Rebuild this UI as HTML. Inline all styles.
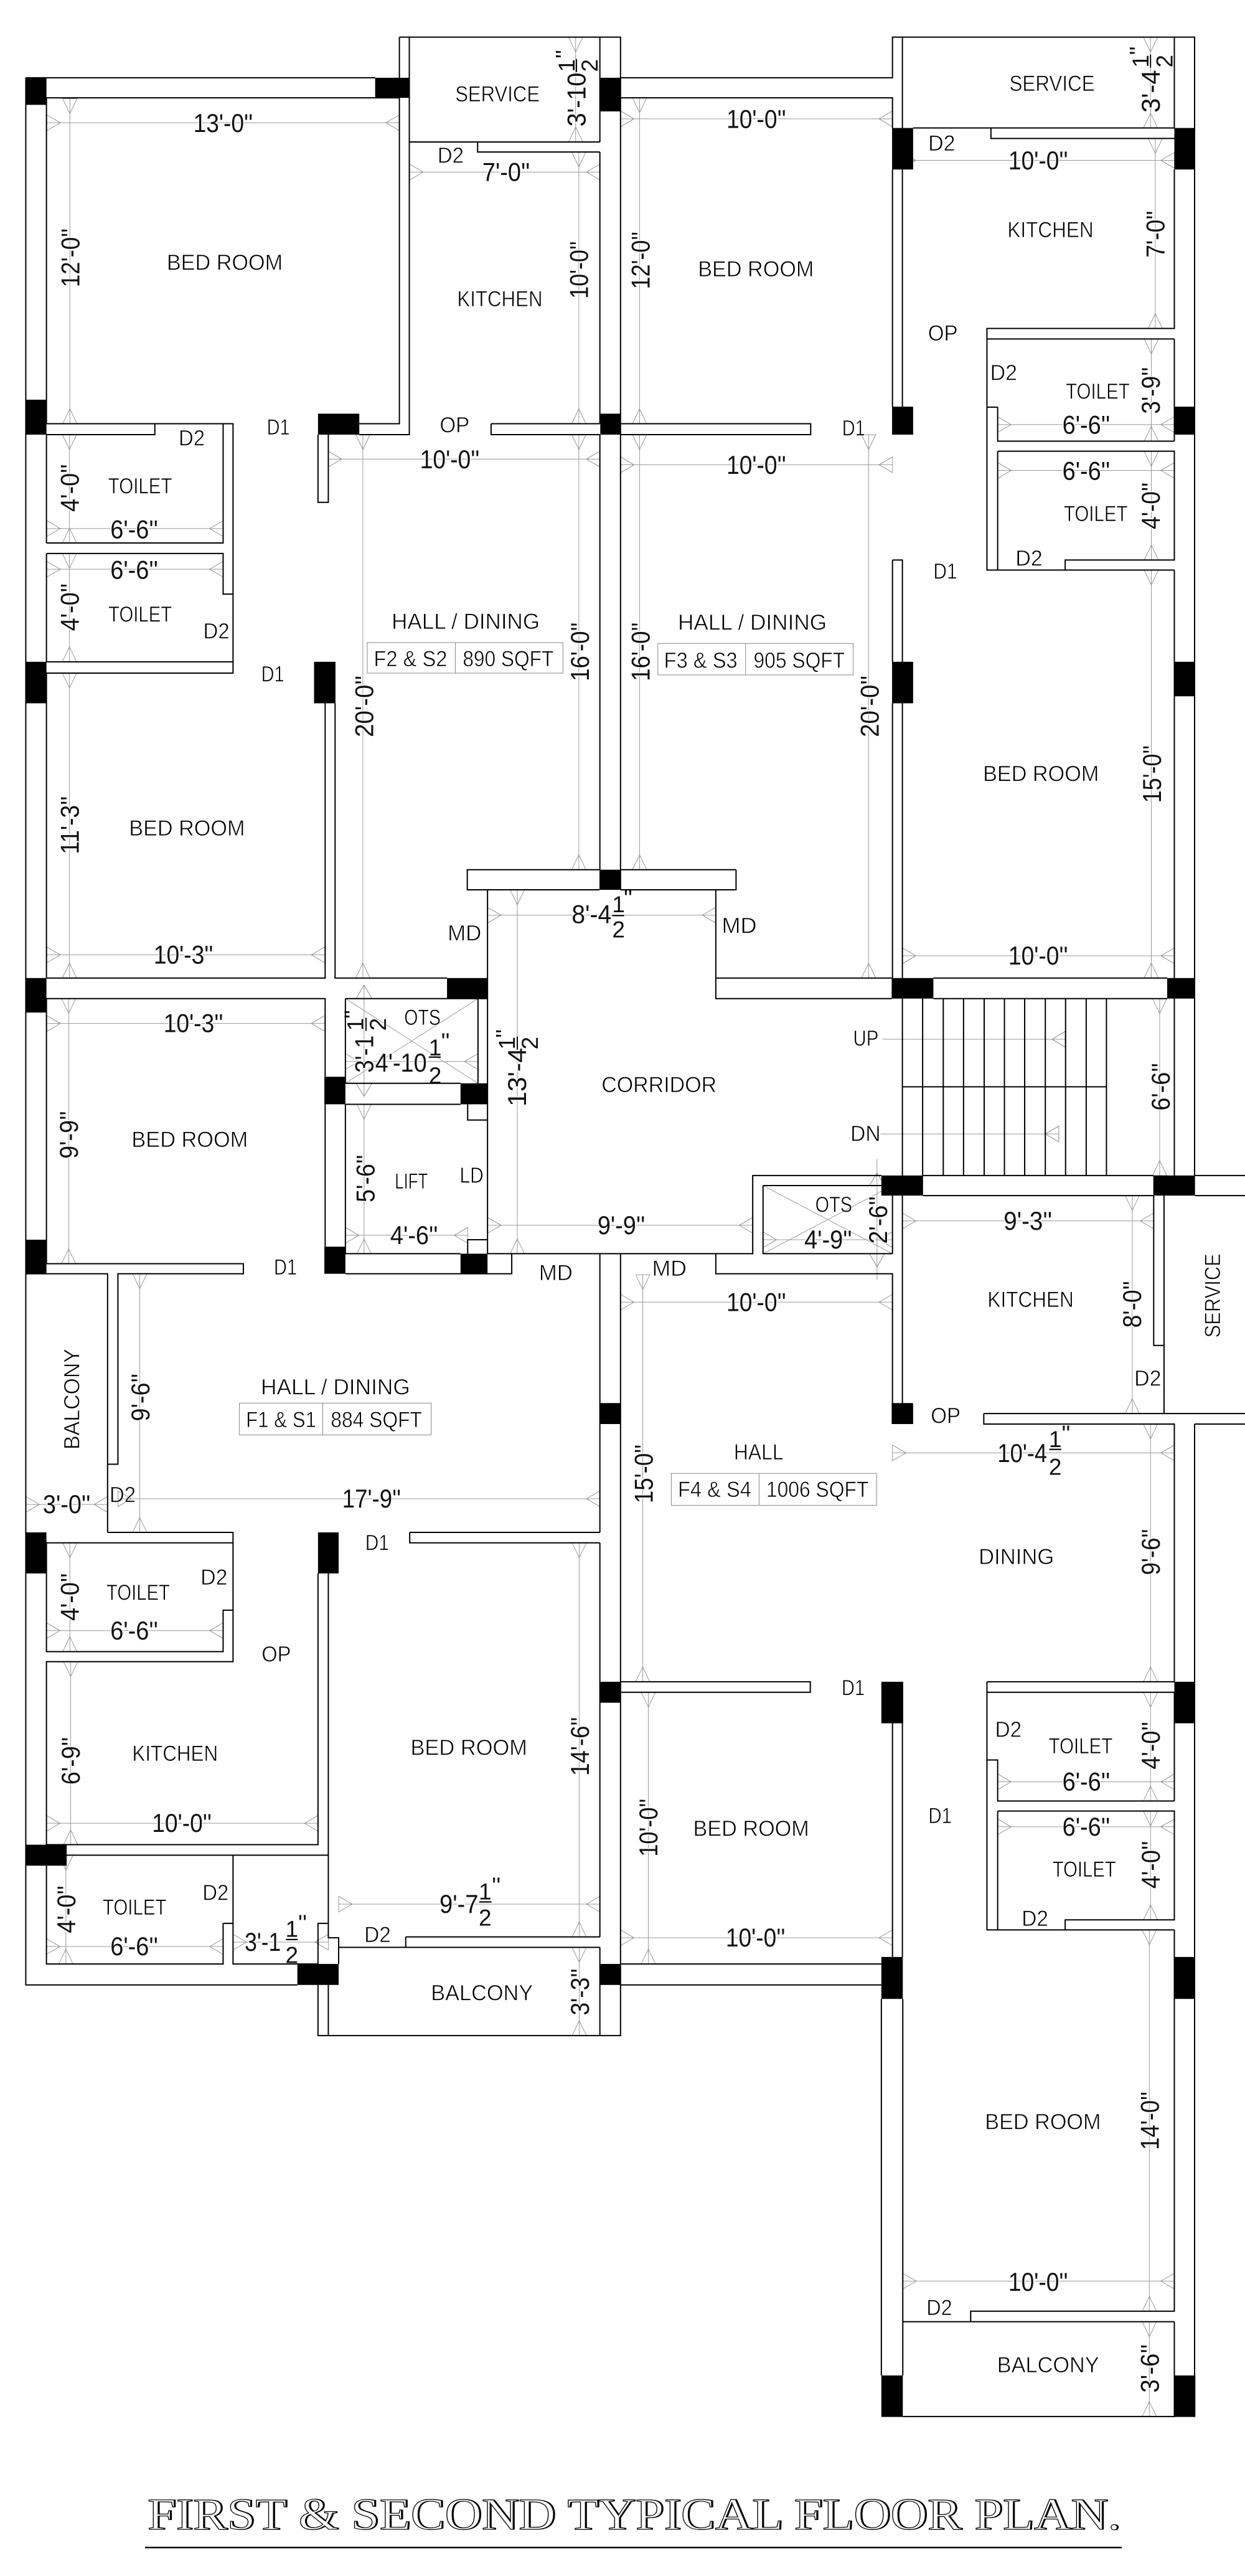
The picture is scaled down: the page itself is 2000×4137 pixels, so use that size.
<!DOCTYPE html>
<html><head><meta charset="utf-8"><style>
html,body{margin:0;padding:0;background:#fff}
svg{display:block}
text{font-family:"Liberation Sans",sans-serif;fill:#000;text-anchor:middle}
.l{font-size:55px;stroke:#fff;stroke-width:1.1px}
.d{font-size:66px;fill:#111;paint-order:stroke;stroke:#fff;stroke-width:5px}
.f{font-size:58px;fill:#111;paint-order:stroke;stroke:#fff;stroke-width:3px}
.w{fill:none;stroke:#000;stroke-width:2;vector-effect:non-scaling-stroke}
.t{fill:none;stroke:#888;stroke-width:1;vector-effect:non-scaling-stroke}
.g line{stroke:#999;stroke-width:1;vector-effect:non-scaling-stroke;marker-start:url(#s);marker-end:url(#e)}
.n line{stroke:#999;stroke-width:1;vector-effect:non-scaling-stroke}
.b rect{fill:#000}
.title{font-family:"Liberation Serif",serif;font-size:72px;text-anchor:start}
.t1{fill:#000;stroke:#000;stroke-width:1px}
.t2{fill:#fff;stroke:#000;stroke-width:1.2px}
</style></head><body>
<svg xmlns="http://www.w3.org/2000/svg" width="2000" height="4137" viewBox="0 0 2000 4137">
<defs>
<marker id="s" markerUnits="userSpaceOnUse" orient="auto" markerWidth="1" markerHeight="1" style="overflow:visible"><path d="M0 -18V18L34 0Z" fill="none" stroke="#888" stroke-width="1.3"/></marker>
<marker id="e" markerUnits="userSpaceOnUse" orient="auto" markerWidth="1" markerHeight="1" style="overflow:visible"><path d="M0 -18V18L-34 0Z" fill="none" stroke="#888" stroke-width="1.3"/></marker>
</defs>
<g transform="scale(.63776 .70153)">
<!-- dimension lines -->
<g class="g">
<line x1="118" y1="281" x2="1006" y2="281"/>
<line x1="176" y1="226" x2="176" y2="970"/>
<line x1="1032" y1="394" x2="1511" y2="394"/>
<line x1="1458" y1="348" x2="1458" y2="970"/>
<line x1="1450" y1="85" x2="1450" y2="325"/>
<line x1="827" y1="1051" x2="1511" y2="1051"/>
<line x1="914" y1="995" x2="914" y2="2239"/>
<line x1="1458" y1="995" x2="1458" y2="1991"/>
<line x1="175" y1="995" x2="175" y2="1243"/>
<line x1="175" y1="1267" x2="175" y2="1515"/>
<line x1="118" y1="1210" x2="562" y2="1210"/>
<line x1="118" y1="1303" x2="562" y2="1303"/>
<line x1="175" y1="1541" x2="175" y2="2239"/>
<line x1="118" y1="2186" x2="818" y2="2186"/>
<line x1="1228" y1="2095" x2="1803" y2="2095"/>
<line x1="1303" y1="2037" x2="1303" y2="2870"/>
<line x1="118" y1="2343" x2="818" y2="2343"/>
<line x1="173" y1="2286" x2="173" y2="2893"/>
<line x1="870" y1="2430" x2="1204" y2="2430"/>
<line x1="917" y1="2528" x2="917" y2="2870"/>
<line x1="870" y1="2828" x2="1178" y2="2828"/>
<line x1="1228" y1="2805" x2="1896" y2="2805"/>
<line x1="1563" y1="272" x2="2248" y2="272"/>
<line x1="1611" y1="224" x2="1611" y2="970"/>
<line x1="1563" y1="1064" x2="2248" y2="1064"/>
<line x1="1611" y1="995" x2="1611" y2="1991"/>
<line x1="2188" y1="995" x2="2188" y2="2239"/>
<line x1="2898" y1="85" x2="2898" y2="293"/>
<line x1="2273" y1="367" x2="2958" y2="367"/>
<line x1="2910" y1="317" x2="2910" y2="752"/>
<line x1="2900" y1="776" x2="2900" y2="1010"/>
<line x1="2513" y1="972" x2="2958" y2="972"/>
<line x1="2513" y1="1077" x2="2958" y2="1077"/>
<line x1="2900" y1="1033" x2="2900" y2="1282"/>
<line x1="2900" y1="1305" x2="2900" y2="2239"/>
<line x1="2273" y1="2188" x2="2958" y2="2188"/>
<line x1="2921" y1="2286" x2="2921" y2="2691"/>
<line x1="1922" y1="2838" x2="2248" y2="2838"/>
<line x1="2273" y1="2795" x2="2906" y2="2795"/>
<line x1="2852" y1="2737" x2="2852" y2="3236"/>
<line x1="1563" y1="2981" x2="2248" y2="2981"/>
<line x1="1619" y1="2918" x2="1619" y2="3850"/>
<line x1="2248" y1="3326" x2="2958" y2="3326"/>
<line x1="2898" y1="3260" x2="2898" y2="3850"/>
<line x1="1633" y1="3874" x2="1633" y2="4496"/>
<line x1="1563" y1="4436" x2="2248" y2="4436"/>
<line x1="2898" y1="3874" x2="2898" y2="4123"/>
<line x1="2513" y1="4079" x2="2958" y2="4079"/>
<line x1="2513" y1="4182" x2="2958" y2="4182"/>
<line x1="2898" y1="4146" x2="2898" y2="4395"/>
<line x1="352" y1="2916" x2="352" y2="3508"/>
<line x1="65" y1="3444" x2="271" y2="3444"/>
<line x1="297" y1="3431" x2="1511" y2="3431"/>
<line x1="176" y1="3532" x2="176" y2="3781"/>
<line x1="117" y1="3733" x2="562" y2="3733"/>
<line x1="178" y1="3804" x2="178" y2="4223"/>
<line x1="117" y1="4174" x2="801" y2="4174"/>
<line x1="1459" y1="3532" x2="1459" y2="4434"/>
<line x1="853" y1="4359" x2="1511" y2="4359"/>
<line x1="1459" y1="4458" x2="1459" y2="4660"/>
<line x1="166" y1="4247" x2="166" y2="4496"/>
<line x1="117" y1="4456" x2="562" y2="4456"/>
<line x1="587" y1="4446" x2="827" y2="4446"/>
<line x1="2895" y1="4418" x2="2895" y2="5291"/>
<line x1="2274" y1="5222" x2="2958" y2="5222"/>
<line x1="2895" y1="5315" x2="2895" y2="5532"/>
</g>
<g class="n">
<line x1="917" y1="2255" x2="917" y2="2510"/>
<line x1="2209" y1="2653" x2="2209" y2="2930"/>
<line x1="2223" y1="2379" x2="2683" y2="2379"/>
<line x1="2218" y1="2596" x2="2667" y2="2596"/>
<line x1="870" y1="2286" x2="1204" y2="2480"/>
<line x1="870" y1="2480" x2="1204" y2="2286"/>
<line x1="1922" y1="2714" x2="2248" y2="2870"/>
<line x1="1922" y1="2870" x2="2248" y2="2714"/>
</g>
<path class="t" d="M897 2286H937L917 2255ZM897 2480H937L917 2510ZM2190 2714H2228L2209 2685ZM2190 2870H2228L2209 2900ZM2683 2361V2397L2650 2379ZM2667 2578V2614L2633 2596Z"/>
<path class="t" d="M925 1471H1418V1541H925ZM1147 1471V1541M1657 1473H2149V1545H1657ZM1878 1473V1545M1691 3373H2208V3446H1691ZM1912 3373V3446M603 3212H1086V3285H603ZM813 3212V3285"/>

<!-- dimension text -->
<g>
<text class="d" transform="translate(562 302) scale(1 .909)" textLength="150" lengthAdjust="spacingAndGlyphs">13'-0''</text>
<text class="d" transform="translate(200 590) scale(1 .909) rotate(-90)" textLength="148" lengthAdjust="spacingAndGlyphs">12'-0''</text>
<text class="d" transform="translate(1275 414) scale(1 .909)" textLength="120" lengthAdjust="spacingAndGlyphs">7'-0''</text>
<text class="d" transform="translate(1481 618) scale(1 .909) rotate(-90)" textLength="145" lengthAdjust="spacingAndGlyphs">10'-0''</text>
<text class="d" transform="translate(1133 1072) scale(1 .909)" textLength="150" lengthAdjust="spacingAndGlyphs">10'-0''</text>
<text class="d" transform="translate(198 1117) scale(1 .909) rotate(-90)" textLength="120" lengthAdjust="spacingAndGlyphs">4'-0''</text>
<text class="d" transform="translate(198 1390) scale(1 .909) rotate(-90)" textLength="120" lengthAdjust="spacingAndGlyphs">4'-0''</text>
<text class="d" transform="translate(338 1232) scale(1 .909)" textLength="120" lengthAdjust="spacingAndGlyphs">6'-6''</text>
<text class="d" transform="translate(338 1325) scale(1 .909)" textLength="120" lengthAdjust="spacingAndGlyphs">6'-6''</text>
<text class="d" transform="translate(1483 1492) scale(1 .909) rotate(-90)" textLength="148" lengthAdjust="spacingAndGlyphs">16'-0''</text>
<text class="d" transform="translate(940 1617) scale(1 .909) rotate(-90)" textLength="155" lengthAdjust="spacingAndGlyphs">20'-0''</text>
<text class="d" transform="translate(198 1889) scale(1 .909) rotate(-90)" textLength="146" lengthAdjust="spacingAndGlyphs">11'-3''</text>
<text class="d" transform="translate(462 2206) scale(1 .909)" textLength="150" lengthAdjust="spacingAndGlyphs">10'-3''</text>
<text class="d" transform="translate(487 2363) scale(1 .909)" textLength="150" lengthAdjust="spacingAndGlyphs">10'-3''</text>
<text class="d" transform="translate(196 2598) scale(1 .909) rotate(-90)" textLength="120" lengthAdjust="spacingAndGlyphs">9'-9''</text>
<text class="d" transform="translate(943 2698) scale(1 .909) rotate(-90)" textLength="120" lengthAdjust="spacingAndGlyphs">5'-6''</text>
<text class="d" transform="translate(1043 2848) scale(1 .909)" textLength="120" lengthAdjust="spacingAndGlyphs">4'-6''</text>
<text class="d" transform="translate(1565 2825) scale(1 .909)" textLength="120" lengthAdjust="spacingAndGlyphs">9'-9''</text>

<text class="d" transform="translate(1905 293) scale(1 .909)" textLength="150" lengthAdjust="spacingAndGlyphs">10'-0''</text>
<text class="d" transform="translate(1636 596) scale(1 .909) rotate(-90)" textLength="145" lengthAdjust="spacingAndGlyphs">12'-0''</text>
<text class="d" transform="translate(1905 1085) scale(1 .909)" textLength="150" lengthAdjust="spacingAndGlyphs">10'-0''</text>
<text class="d" transform="translate(1636 1492) scale(1 .909) rotate(-90)" textLength="148" lengthAdjust="spacingAndGlyphs">16'-0''</text>
<text class="d" transform="translate(2213 1617) scale(1 .909) rotate(-90)" textLength="155" lengthAdjust="spacingAndGlyphs">20'-0''</text>
<text class="d" transform="translate(2615 388) scale(1 .909)" textLength="150" lengthAdjust="spacingAndGlyphs">10'-0''</text>
<text class="d" transform="translate(2933 536) scale(1 .909) rotate(-90)" textLength="118" lengthAdjust="spacingAndGlyphs">7'-0''</text>
<text class="d" transform="translate(2921 894) scale(1 .909) rotate(-90)" textLength="118" lengthAdjust="spacingAndGlyphs">3'-9''</text>
<text class="d" transform="translate(2736 993) scale(1 .909)" textLength="120" lengthAdjust="spacingAndGlyphs">6'-6''</text>
<text class="d" transform="translate(2736 1098) scale(1 .909)" textLength="120" lengthAdjust="spacingAndGlyphs">6'-6''</text>
<text class="d" transform="translate(2921 1158) scale(1 .909) rotate(-90)" textLength="118" lengthAdjust="spacingAndGlyphs">4'-0''</text>
<text class="d" transform="translate(2924 1772) scale(1 .909) rotate(-90)" textLength="145" lengthAdjust="spacingAndGlyphs">15'-0''</text>
<text class="d" transform="translate(2615 2208) scale(1 .909)" textLength="150" lengthAdjust="spacingAndGlyphs">10'-0''</text>
<text class="d" transform="translate(2946 2488) scale(1 .909) rotate(-90)" textLength="120" lengthAdjust="spacingAndGlyphs">6'-6''</text>
<text class="d" transform="translate(2086 2858) scale(1 .909)" textLength="120" lengthAdjust="spacingAndGlyphs">4'-9''</text>
<text class="d" transform="translate(2234 2793) scale(1 .909) rotate(-90)" textLength="120" lengthAdjust="spacingAndGlyphs">2'-6''</text>
<text class="d" transform="translate(2589 2815) scale(1 .909)" textLength="122" lengthAdjust="spacingAndGlyphs">9'-3''</text>
<text class="d" transform="translate(2874 2986) scale(1 .909) rotate(-90)" textLength="118" lengthAdjust="spacingAndGlyphs">8'-0''</text>
<text class="d" transform="translate(1905 3001) scale(1 .909)" textLength="150" lengthAdjust="spacingAndGlyphs">10'-0''</text>
<text class="d" transform="translate(1644 3374) scale(1 .909) rotate(-90)" textLength="148" lengthAdjust="spacingAndGlyphs">15'-0''</text>
<text class="d" transform="translate(2921 3553) scale(1 .909) rotate(-90)" textLength="116" lengthAdjust="spacingAndGlyphs">9'-6''</text>
<text class="d" transform="translate(1656 4184) scale(1 .909) rotate(-90)" textLength="146" lengthAdjust="spacingAndGlyphs">10'-0''</text>
<text class="d" transform="translate(1903 4456) scale(1 .909)" textLength="150" lengthAdjust="spacingAndGlyphs">10'-0''</text>
<text class="d" transform="translate(2921 3996) scale(1 .909) rotate(-90)" textLength="120" lengthAdjust="spacingAndGlyphs">4'-0''</text>
<text class="d" transform="translate(2736 4099) scale(1 .909)" textLength="120" lengthAdjust="spacingAndGlyphs">6'-6''</text>
<text class="d" transform="translate(2736 4202) scale(1 .909)" textLength="120" lengthAdjust="spacingAndGlyphs">6'-6''</text>
<text class="d" transform="translate(2921 4269) scale(1 .909) rotate(-90)" textLength="120" lengthAdjust="spacingAndGlyphs">4'-0''</text>

<text class="d" transform="translate(376 3199) scale(1 .909) rotate(-90)" textLength="120" lengthAdjust="spacingAndGlyphs">9'-6''</text>
<text class="d" transform="translate(168 3464) scale(1 .909)" textLength="120" lengthAdjust="spacingAndGlyphs">3'-0''</text>
<text class="d" transform="translate(936 3451) scale(1 .909)" textLength="148" lengthAdjust="spacingAndGlyphs">17'-9''</text>
<text class="d" transform="translate(198 3656) scale(1 .909) rotate(-90)" textLength="120" lengthAdjust="spacingAndGlyphs">4'-0''</text>
<text class="d" transform="translate(338 3753) scale(1 .909)" textLength="120" lengthAdjust="spacingAndGlyphs">6'-6''</text>
<text class="d" transform="translate(201 4031) scale(1 .909) rotate(-90)" textLength="120" lengthAdjust="spacingAndGlyphs">6'-9''</text>
<text class="d" transform="translate(458 4194) scale(1 .909)" textLength="150" lengthAdjust="spacingAndGlyphs">10'-0''</text>
<text class="d" transform="translate(1483 3998) scale(1 .909) rotate(-90)" textLength="148" lengthAdjust="spacingAndGlyphs">14'-6''</text>
<text class="d" transform="translate(1483 4560) scale(1 .909) rotate(-90)" textLength="118" lengthAdjust="spacingAndGlyphs">3'-3''</text>
<text class="d" transform="translate(190 4371) scale(1 .909) rotate(-90)" textLength="120" lengthAdjust="spacingAndGlyphs">4'-0''</text>
<text class="d" transform="translate(338 4476) scale(1 .909)" textLength="120" lengthAdjust="spacingAndGlyphs">6'-6''</text>
<text class="d" transform="translate(2919 4855) scale(1 .909) rotate(-90)" textLength="147" lengthAdjust="spacingAndGlyphs">14'-0''</text>
<text class="d" transform="translate(2615 5244) scale(1 .909)" textLength="150" lengthAdjust="spacingAndGlyphs">10'-0''</text>
<text class="d" transform="translate(2919 5422) scale(1 .909) rotate(-90)" textLength="122" lengthAdjust="spacingAndGlyphs">3'-6''</text>

<!-- fractional dimensions -->
<text class="d" transform="translate(1475 228) scale(1 .909) rotate(-90)" textLength="136" lengthAdjust="spacingAndGlyphs">3'-10</text>
<text class="f" transform="translate(1447 150) scale(1 .909) rotate(-90)">1</text>
<text class="f" transform="translate(1505 150) scale(1 .909) rotate(-90)">2</text>
<text class="f" transform="translate(1440 124) scale(1 .909) rotate(-90)">''</text>
<path d="M1452 135V165" stroke="#000" stroke-width="3" fill="none"/>

<text class="d" transform="translate(2921 209) scale(1 .909) rotate(-90)" textLength="108" lengthAdjust="spacingAndGlyphs">3'-4</text>
<text class="f" transform="translate(2893 140) scale(1 .909) rotate(-90)">1</text>
<text class="f" transform="translate(2953 140) scale(1 .909) rotate(-90)">2</text>
<text class="f" transform="translate(2886 116) scale(1 .909) rotate(-90)">''</text>
<path d="M2898 125V155" stroke="#000" stroke-width="3" fill="none"/>

<text class="d" transform="translate(1490 2113) scale(1 .909)" textLength="100" lengthAdjust="spacingAndGlyphs">8'-4</text>
<text class="f" transform="translate(1558 2088) scale(1 .909)">1</text>
<text class="f" transform="translate(1558 2146) scale(1 .909)">2</text>
<text class="f" transform="translate(1582 2074) scale(1 .909)">''</text>
<path d="M1542 2096H1572" stroke="#000" stroke-width="3" fill="none"/>

<text class="d" transform="translate(1325 2466) scale(1 .909) rotate(-90)" textLength="148" lengthAdjust="spacingAndGlyphs">13'-4</text>
<text class="f" transform="translate(1297 2388) scale(1 .909) rotate(-90)">1</text>
<text class="f" transform="translate(1355 2388) scale(1 .909) rotate(-90)">2</text>
<text class="f" transform="translate(1290 2366) scale(1 .909) rotate(-90)">''</text>
<path d="M1303 2373V2403" stroke="#000" stroke-width="3" fill="none"/>

<text class="d" transform="translate(1010 2453) scale(1 .909)" textLength="130" lengthAdjust="spacingAndGlyphs">4'-10</text>
<text class="f" transform="translate(1096 2416) scale(1 .909)">1</text>
<text class="f" transform="translate(1096 2480) scale(1 .909)">2</text>
<text class="f" transform="translate(1122 2402) scale(1 .909)">''</text>
<path d="M1080 2420H1110" stroke="#000" stroke-width="3" fill="none"/>

<text class="d" transform="translate(940 2413) scale(1 .909) rotate(-90)" textLength="94" lengthAdjust="spacingAndGlyphs">3'-1</text>
<text class="f" transform="translate(915 2345) scale(1 .909) rotate(-90)">1</text>
<text class="f" transform="translate(972 2345) scale(1 .909) rotate(-90)">2</text>
<text class="f" transform="translate(908 2322) scale(1 .909) rotate(-90)">''</text>
<path d="M922 2330V2360" stroke="#000" stroke-width="3" fill="none"/>

<text class="d" transform="translate(2575 3347) scale(1 .909)" textLength="125" lengthAdjust="spacingAndGlyphs">10'-4</text>
<text class="f" transform="translate(2658 3313) scale(1 .909)">1</text>
<text class="f" transform="translate(2658 3376) scale(1 .909)">2</text>
<text class="f" transform="translate(2685 3300) scale(1 .909)">''</text>
<path d="M2643 3318H2673" stroke="#000" stroke-width="3" fill="none"/>

<text class="d" transform="translate(1156 4379) scale(1 .909)" textLength="98" lengthAdjust="spacingAndGlyphs">9'-7</text>
<text class="f" transform="translate(1222 4348) scale(1 .909)">1</text>
<text class="f" transform="translate(1222 4408) scale(1 .909)">2</text>
<text class="f" transform="translate(1250 4335) scale(1 .909)">''</text>
<path d="M1207 4354H1238" stroke="#000" stroke-width="3" fill="none"/>

<text class="d" transform="translate(662 4466) scale(1 .909)" textLength="91" lengthAdjust="spacingAndGlyphs">3'-1</text>
<text class="f" transform="translate(735 4434) scale(1 .909)">1</text>
<text class="f" transform="translate(735 4494) scale(1 .909)">2</text>
<text class="f" transform="translate(762 4420) scale(1 .909)">''</text>
<path d="M720 4440H750" stroke="#000" stroke-width="3" fill="none"/>
</g>

<!-- walls -->
<path class="w" d="M65 178V4544H749M65 178H945M117 224H1006M117 224V970M117 995V1243M117 1267V1515M117 1541V2239M117 2286V2893
M1006 85V970H905M1006 85H1563V178M1031 85V995H905M1031 325H1511M1203 325V348H1511M1511 85V325M1511 348V970M1237 970H1511M1237 970V995H1511M1511 995V1991H1177V2037H1510
M1563 85V2037M1563 2870V4660H801V4544M1511 2870V3508M1511 3532V4434M1511 4458V4660
M117 970H587V1360H562V1267H117M117 995H390V970M562 970V1243H117M587 1360V1541H117M117 1515H587
M801 995V1150H827V995
M819 1610V2239H117M844 1610V2239H1126M117 2286H819V2465M870 2286V2480M870 2286H1228M1228 2037V2870M1204 2286V2480M870 2480H1160M870 2528H1160M1178 2528V2564H1228M1178 2870V2838H1228M819 2528V2854M870 2528V2870H1160M870 2916H1289V2870M1228 2870H1896V2691H2220
M117 2893H613V2916H297V3352H271M65 2916H271V3508
M271 3508H587V3804H117V4223H801V3602M117 3532H587M117 3532V3781H562V3686H587M827 3602V4403H801V4496H587V4247M168 4247H827M562 4403H587M562 4403V4496H117V4271M827 4403V4436H853V4496M853 4458H1511M1022 4434V4458M1022 4434H1511M827 4544V4660M1032 3508H1511M1032 3508V3532H1511
M1563 178H2248V85H3009V2691M1563 224H2248V293M2273 85V293M2248 388V931M2273 388V931M2300 293H2958M2958 85V293M2496 293V317H2958M2958 388V752H2486V1305H2958M2486 776H2958M2513 932H2486M2513 932V1010H2958M2958 776V1010M2513 1033H2958V1282H2683V1305M2513 1033V1305M2958 1305V2239M2248 1282H2273V1515M2248 1282V1515
M2248 1610V2239H1803V2286H2246M2273 1610V2239M1563 970H2042V995H1563
M1854 1991V2037H1563M1563 1991H1854M1803 2037V2239M2351 2239H2940M2351 2286H2940M2958 2286V2691M2273 2286V2691M2273 2488H2787M2325 2691H2905M2325 2737H2905M3010 2691H3136M3010 2737H3136M1922 2714H2220M1922 2714V2870H2248M2248 2737V2870M1803 2870V2916H2248V3212M2273 2737V3212M2906 2737V3080H2932M2932 2737V3236
M2324 2286V2691M2376 2286V2691M2427 2286V2691M2479 2286V2691M2530 2286V2691M2581 2286V2691M2633 2286V2691M2684 2286V2691M2736 2286V2691M2787 2286V2691
M2478 3236H3136M2478 3236V3260H2958V3850M3009 3260H3136M3009 3260V5533
M2486 3850H2958M2486 3874H2958M2486 3850V4418H2958M2486 4029H2513V4123H2958M2958 3874V4123M2513 4146H2958V4395H2683V4418M2513 4146V4418M2958 4418V5291H2445V5315H2958M2958 5315V5532H2274M1563 3850H2041V3874H1563M2248 3945V4480M2273 3945V4480M1563 4496H2220M1563 4544H2220M2220 4576V5438M2274 4576V5438M2274 5315H2445"/>

<!-- columns -->
<g class="b">
<rect x="65" y="178" width="52" height="62"/><rect x="945" y="178" width="87" height="46"/><rect x="1512" y="178" width="51" height="77"/>
<rect x="65" y="915" width="52" height="80"/><rect x="801" y="947" width="104" height="48"/><rect x="1512" y="947" width="51" height="48"/>
<rect x="65" y="1515" width="52" height="95"/><rect x="791" y="1515" width="54" height="95"/>
<rect x="2247" y="293" width="53" height="95"/><rect x="2958" y="293" width="51" height="95"/><rect x="2247" y="931" width="53" height="64"/><rect x="2958" y="931" width="51" height="64"/>
<rect x="2247" y="1515" width="53" height="95"/><rect x="2958" y="1515" width="51" height="79"/>
<rect x="65" y="2239" width="52" height="79"/><rect x="1126" y="2239" width="102" height="47"/><rect x="817" y="2465" width="53" height="63"/><rect x="1160" y="2480" width="68" height="48"/>
<rect x="65" y="2838" width="52" height="78"/><rect x="817" y="2854" width="53" height="62"/><rect x="1160" y="2870" width="68" height="46"/><rect x="1510" y="1991" width="53" height="46"/>
<rect x="2246" y="2239" width="105" height="47"/><rect x="2940" y="2239" width="69" height="47"/><rect x="2220" y="2691" width="105" height="46"/><rect x="2905" y="2691" width="105" height="46"/>
<rect x="1512" y="3212" width="51" height="48"/><rect x="65" y="3508" width="52" height="94"/><rect x="801" y="3508" width="52" height="94"/><rect x="1512" y="3850" width="51" height="48"/>
<rect x="65" y="4223" width="103" height="48"/><rect x="749" y="4496" width="104" height="48"/><rect x="1512" y="4496" width="51" height="48"/>
<rect x="2246" y="3212" width="54" height="48"/><rect x="2220" y="3850" width="55" height="95"/><rect x="2958" y="3850" width="51" height="95"/>
<rect x="2220" y="4480" width="54" height="96"/><rect x="2958" y="4480" width="51" height="96"/><rect x="2220" y="5438" width="54" height="95"/><rect x="2958" y="5438" width="53" height="95"/>
</g>

<!-- room labels -->
<g class="lab">
<text class="l" transform="translate(566 618) scale(1 .909)" textLength="292" lengthAdjust="spacingAndGlyphs">BED ROOM</text>
<text class="l" transform="translate(1253 232) scale(1 .909)" textLength="213" lengthAdjust="spacingAndGlyphs">SERVICE</text>
<text class="l" transform="translate(1259 701) scale(1 .909)" textLength="215" lengthAdjust="spacingAndGlyphs">KITCHEN</text>
<text class="l" transform="translate(1135 373) scale(1 .909)" textLength="66" lengthAdjust="spacingAndGlyphs">D2</text>
<text class="l" transform="translate(701 995) scale(1 .909)" textLength="58" lengthAdjust="spacingAndGlyphs">D1</text>
<text class="l" transform="translate(483 1020) scale(1 .909)" textLength="66" lengthAdjust="spacingAndGlyphs">D2</text>
<text class="l" transform="translate(1145 990) scale(1 .909)" textLength="75" lengthAdjust="spacingAndGlyphs">OP</text>
<text class="l" transform="translate(353 1130) scale(1 .909)" textLength="161" lengthAdjust="spacingAndGlyphs">TOILET</text>
<text class="l" transform="translate(353 1423) scale(1 .909)" textLength="160" lengthAdjust="spacingAndGlyphs">TOILET</text>
<text class="l" transform="translate(545 1462) scale(1 .909)" textLength="66" lengthAdjust="spacingAndGlyphs">D2</text>
<text class="l" transform="translate(1173 1440) scale(1 .909)" textLength="373" lengthAdjust="spacingAndGlyphs">HALL / DINING</text>
<text class="l" transform="translate(1034 1525) scale(1 .909)" textLength="185" lengthAdjust="spacingAndGlyphs">F2 &amp; S2</text>
<text class="l" transform="translate(1280 1525) scale(1 .909)" textLength="229" lengthAdjust="spacingAndGlyphs">890 SQFT</text>
<text class="l" transform="translate(687 1560) scale(1 .909)" textLength="58" lengthAdjust="spacingAndGlyphs">D1</text>
<text class="l" transform="translate(471 1913) scale(1 .909)" textLength="292" lengthAdjust="spacingAndGlyphs">BED ROOM</text>
<text class="l" transform="translate(1170 2153) scale(1 .909)" textLength="85" lengthAdjust="spacingAndGlyphs">MD</text>
<text class="l" transform="translate(478 2626) scale(1 .909)" textLength="293" lengthAdjust="spacingAndGlyphs">BED ROOM</text>
<text class="l" transform="translate(719 2918) scale(1 .909)" textLength="58" lengthAdjust="spacingAndGlyphs">D1</text>
<text class="l" transform="translate(1064 2346) scale(1 .909)" textLength="92" lengthAdjust="spacingAndGlyphs">OTS</text>
<text class="l" transform="translate(1036 2721) scale(1 .909)" textLength="83" lengthAdjust="spacingAndGlyphs">LIFT</text>
<text class="l" transform="translate(1188 2708) scale(1 .909)" textLength="60" lengthAdjust="spacingAndGlyphs">LD</text>
<text class="l" transform="translate(1400 2931) scale(1 .909)" textLength="85" lengthAdjust="spacingAndGlyphs">MD</text>
<text class="l" transform="translate(1660 2500) scale(1 .909)" textLength="290" lengthAdjust="spacingAndGlyphs">CORRIDOR</text>
<text class="l" transform="translate(1904 633) scale(1 .909)" textLength="292" lengthAdjust="spacingAndGlyphs">BED ROOM</text>
<text class="l" transform="translate(2150 997) scale(1 .909)" textLength="58" lengthAdjust="spacingAndGlyphs">D1</text>
<text class="l" transform="translate(1895 1442) scale(1 .909)" textLength="375" lengthAdjust="spacingAndGlyphs">HALL / DINING</text>
<text class="l" transform="translate(1765 1529) scale(1 .909)" textLength="185" lengthAdjust="spacingAndGlyphs">F3 &amp; S3</text>
<text class="l" transform="translate(2013 1529) scale(1 .909)" textLength="230" lengthAdjust="spacingAndGlyphs">905 SQFT</text>
<text class="l" transform="translate(2650 208) scale(1 .909)" textLength="215" lengthAdjust="spacingAndGlyphs">SERVICE</text>
<text class="l" transform="translate(2372 345) scale(1 .909)" textLength="68" lengthAdjust="spacingAndGlyphs">D2</text>
<text class="l" transform="translate(2646 543) scale(1 .909)" textLength="217" lengthAdjust="spacingAndGlyphs">KITCHEN</text>
<text class="l" transform="translate(2375 780) scale(1 .909)" textLength="75" lengthAdjust="spacingAndGlyphs">OP</text>
<text class="l" transform="translate(2528 870) scale(1 .909)" textLength="68" lengthAdjust="spacingAndGlyphs">D2</text>
<text class="l" transform="translate(2765 913) scale(1 .909)" textLength="161" lengthAdjust="spacingAndGlyphs">TOILET</text>
<text class="l" transform="translate(2760 1193) scale(1 .909)" textLength="161" lengthAdjust="spacingAndGlyphs">TOILET</text>
<text class="l" transform="translate(2592 1295) scale(1 .909)" textLength="68" lengthAdjust="spacingAndGlyphs">D2</text>
<text class="l" transform="translate(2381 1325) scale(1 .909)" textLength="60" lengthAdjust="spacingAndGlyphs">D1</text>
<text class="l" transform="translate(2622 1788) scale(1 .909)" textLength="292" lengthAdjust="spacingAndGlyphs">BED ROOM</text>
<text class="l" transform="translate(1862 2136) scale(1 .909)" textLength="88" lengthAdjust="spacingAndGlyphs">MD</text>
<text class="l" transform="translate(2181 2394) scale(1 .909)" textLength="64" lengthAdjust="spacingAndGlyphs">UP</text>
<text class="l" transform="translate(2180 2612) scale(1 .909)" textLength="76" lengthAdjust="spacingAndGlyphs">DN</text>
<text class="l" transform="translate(2100 2775) scale(1 .909)" textLength="93" lengthAdjust="spacingAndGlyphs">OTS</text>
<text class="l" transform="translate(2596 2992) scale(1 .909)" textLength="217" lengthAdjust="spacingAndGlyphs">KITCHEN</text>
<text class="l" transform="translate(3073 2966) scale(1 .909) rotate(-90)" textLength="212" lengthAdjust="spacingAndGlyphs">SERVICE</text>
<text class="l" transform="translate(1686 2921) scale(1 .909)" textLength="87" lengthAdjust="spacingAndGlyphs">MD</text>
<text class="l" transform="translate(1911 3341) scale(1 .909)" textLength="125" lengthAdjust="spacingAndGlyphs">HALL</text>
<text class="l" transform="translate(1800 3427) scale(1 .909)" textLength="185" lengthAdjust="spacingAndGlyphs">F4 &amp; S4</text>
<text class="l" transform="translate(2059 3427) scale(1 .909)" textLength="258" lengthAdjust="spacingAndGlyphs">1006 SQFT</text>
<text class="l" transform="translate(2382 3258) scale(1 .909)" textLength="75" lengthAdjust="spacingAndGlyphs">OP</text>
<text class="l" transform="translate(2891 3172) scale(1 .909)" textLength="68" lengthAdjust="spacingAndGlyphs">D2</text>
<text class="l" transform="translate(2560 3581) scale(1 .909)" textLength="190" lengthAdjust="spacingAndGlyphs">DINING</text>
<text class="l" transform="translate(2149 3881) scale(1 .909)" textLength="58" lengthAdjust="spacingAndGlyphs">D1</text>
<text class="l" transform="translate(1892 4203) scale(1 .909)" textLength="292" lengthAdjust="spacingAndGlyphs">BED ROOM</text>
<text class="l" transform="translate(2540 3976) scale(1 .909)" textLength="67" lengthAdjust="spacingAndGlyphs">D2</text>
<text class="l" transform="translate(2722 4014) scale(1 .909)" textLength="161" lengthAdjust="spacingAndGlyphs">TOILET</text>
<text class="l" transform="translate(2731 4296) scale(1 .909)" textLength="160" lengthAdjust="spacingAndGlyphs">TOILET</text>
<text class="l" transform="translate(2607 4409) scale(1 .909)" textLength="67" lengthAdjust="spacingAndGlyphs">D2</text>
<text class="l" transform="translate(2368 4174) scale(1 .909)" textLength="59" lengthAdjust="spacingAndGlyphs">D1</text>
<text class="l" transform="translate(845 3192) scale(1 .909)" textLength="376" lengthAdjust="spacingAndGlyphs">HALL / DINING</text>
<text class="l" transform="translate(708 3267) scale(1 .909)" textLength="177" lengthAdjust="spacingAndGlyphs">F1 &amp; S1</text>
<text class="l" transform="translate(948 3267) scale(1 .909)" textLength="230" lengthAdjust="spacingAndGlyphs">884 SQFT</text>
<text class="l" transform="translate(200 3203) scale(1 .909) rotate(-90)" textLength="254" lengthAdjust="spacingAndGlyphs">BALCONY</text>
<text class="l" transform="translate(309 3439) scale(1 .909)" textLength="66" lengthAdjust="spacingAndGlyphs">D2</text>
<text class="l" transform="translate(950 3549) scale(1 .909)" textLength="60" lengthAdjust="spacingAndGlyphs">D1</text>
<text class="l" transform="translate(348 3663) scale(1 .909)" textLength="160" lengthAdjust="spacingAndGlyphs">TOILET</text>
<text class="l" transform="translate(539 3628) scale(1 .909)" textLength="68" lengthAdjust="spacingAndGlyphs">D2</text>
<text class="l" transform="translate(696 3804) scale(1 .909)" textLength="74" lengthAdjust="spacingAndGlyphs">OP</text>
<text class="l" transform="translate(441 4031) scale(1 .909)" textLength="216" lengthAdjust="spacingAndGlyphs">KITCHEN</text>
<text class="l" transform="translate(1181 4018) scale(1 .909)" textLength="294" lengthAdjust="spacingAndGlyphs">BED ROOM</text>
<text class="l" transform="translate(951 4446) scale(1 .909)" textLength="67" lengthAdjust="spacingAndGlyphs">D2</text>
<text class="l" transform="translate(1214 4579) scale(1 .909)" textLength="257" lengthAdjust="spacingAndGlyphs">BALCONY</text>
<text class="l" transform="translate(339 4383) scale(1 .909)" textLength="161" lengthAdjust="spacingAndGlyphs">TOILET</text>
<text class="l" transform="translate(543 4350) scale(1 .909)" textLength="66" lengthAdjust="spacingAndGlyphs">D2</text>
<text class="l" transform="translate(2627 4874) scale(1 .909)" textLength="292" lengthAdjust="spacingAndGlyphs">BED ROOM</text>
<text class="l" transform="translate(2366 5300) scale(1 .909)" textLength="65" lengthAdjust="spacingAndGlyphs">D2</text>
<text class="l" transform="translate(2640 5431) scale(1 .909)" textLength="257" lengthAdjust="spacingAndGlyphs">BALCONY</text>
</g>
</g>
<text class="title t1" x="239" y="4062" textLength="1563" lengthAdjust="spacingAndGlyphs">FIRST &amp; SECOND TYPICAL FLOOR PLAN.</text>
<text class="title t2" x="237" y="4062" textLength="1563" lengthAdjust="spacingAndGlyphs">FIRST &amp; SECOND TYPICAL FLOOR PLAN.</text>
<rect x="233" y="4090" width="1569" height="2.5" fill="#000"/>
</svg>
</body></html>
